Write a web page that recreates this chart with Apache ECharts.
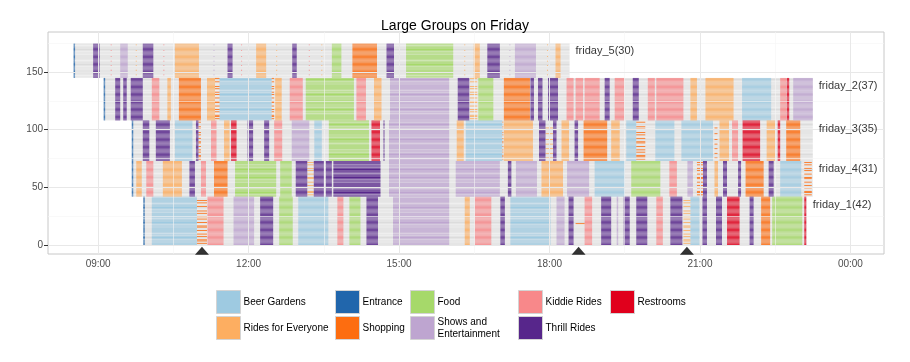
<!DOCTYPE html>
<html><head><meta charset="utf-8">
<script src="https://cdn.jsdelivr.net/npm/echarts@6/dist/echarts.min.js"></script>
<style>html,body{margin:0;padding:0;background:#fff}#c{width:910px;height:362px}</style>
</head><body><div id="c"></div>
<script>
// ---------- DATA ----------
const categories = ['Beer Gardens','Entrance','Food','Kiddie Rides','Restrooms','Rides for Everyone','Shopping','Shows and Entertainment','Thrill Rides'];
const categoryColors = ['#9ecae1','#2166ac','#a6d96a','#f8888a','#e0001c','#fdae61','#fd6d10','#bea5d0','#57268b'];
const codeToCategory = {B:'Beer Gardens',E:'Entrance',F:'Food',K:'Kiddie Rides',R:'Restrooms',O:'Rides for Everyone',S:'Shopping',V:'Shows and Entertainment',T:'Thrill Rides'};

// groups, bottom to top
const groupNames = ['friday_1','friday_4','friday_3','friday_2','friday_5'];
const groupSizes = [42,31,35,37,30];
const groupStart = [9.90,9.67,9.67,9.11,8.51];   // hours
const groupEnd   = [23.13,23.25,23.25,23.25,18.40];

// members taking part in partial activities (row index within the group)
const partialRowsA = [1,3,4,7,9,12,15,16,19,22,24,27,29,33,36,38];
const partialRowsB = [2,6,10,14,18,23,28];
const singleRow = [18];

// segments: [start hour, end hour, activity code, partial rows set]
const friday1Segments = [
  [9.90,9.93,'E'],[10.07,10.97,'B'],[10.97,11.17,'S','A'],[11.18,11.50,'K'],[11.70,12.11,'V'],
  [12.23,12.49,'T'],[12.61,12.88,'F'],[12.99,13.59,'B'],[13.77,13.89,'K'],[14.01,14.23,'F'],
  [14.35,14.58,'T'],[14.88,16.00,'V'],[16.31,16.41,'O'],[16.51,16.84,'K'],[17.02,17.11,'T'],
  [17.22,18.02,'B'],[18.14,18.30,'V'],[18.38,18.48,'T'],[18.52,18.70,'S','one'],[18.70,18.85,'K'],
  [19.03,19.23,'T'],[19.34,19.37,'V'],[19.48,19.60,'T'],[19.73,19.95,'T'],[20.13,20.26,'K'],
  [20.41,20.65,'T'],[20.67,20.81,'O','A'],[20.81,20.99,'B'],[21.05,21.14,'T'],[21.32,21.44,'T'],
  [21.54,21.79,'R'],[21.99,22.07,'T'],[22.22,22.40,'S'],[22.44,23.04,'F'],[23.08,23.12,'R']
];
const friday4Segments = [
  [9.67,9.70,'E'],[9.76,9.87,'O'],[9.96,10.10,'K'],[10.29,10.67,'O'],[10.82,10.93,'T'],
  [11.05,11.15,'K'],[11.31,11.58,'S'],[11.73,12.55,'F'],[12.63,12.86,'F'],[12.94,13.17,'T'],
  [13.17,13.30,'O','A'],[13.30,13.50,'T'],[13.54,13.66,'T'],[13.69,14.63,'T'],[14.80,16.00,'V'],
  [16.13,17.01,'V'],[17.17,17.24,'T'],[17.33,17.75,'V'],[17.84,18.27,'O'],[18.35,18.79,'V'],
  [18.90,19.50,'B'],[19.63,20.21,'F'],[20.39,20.54,'K'],[20.75,20.86,'V'],[20.94,21.06,'S','A'],
  [21.06,21.14,'T'],[21.29,21.36,'O'],[21.46,21.54,'T'],[21.76,21.82,'T'],[21.91,22.27,'S'],
  [22.37,22.47,'T'],[22.60,23.02,'B'],[23.08,23.23,'S','A']
];
const friday3Segments = [
  [9.67,9.70,'E'],[9.89,10.02,'T'],[10.15,10.43,'T'],[10.53,10.88,'B'],[10.95,11.00,'T'],
  [11.00,11.05,'S','A'],[11.25,11.36,'K'],[11.51,11.62,'O'],[11.65,11.76,'R'],[11.98,12.09,'T'],
  [12.31,12.41,'T'],[12.51,12.67,'K'],[12.86,13.21,'V'],[13.31,13.46,'B'],[13.60,14.40,'F'],
  [14.45,14.62,'R'],[14.69,14.71,'T'],[14.80,16.00,'V'],[16.15,16.29,'O'],[16.33,17.06,'B'],
  [17.06,17.08,'S','A'],[17.09,17.67,'O'],[17.79,17.92,'T'],[17.92,18.07,'O','B'],[18.07,18.14,'T'],
  [18.24,18.39,'O'],[18.50,18.57,'T'],[18.68,19.15,'S'],[19.23,19.40,'O'],[19.53,19.73,'B'],
  [19.73,19.91,'S','A'],[20.11,20.49,'B'],[20.63,21.26,'B'],[21.29,21.35,'S','B'],[21.39,21.58,'O'],
  [21.64,21.76,'K'],[21.85,22.20,'R'],[22.33,22.50,'O'],[22.55,22.60,'R'],[22.72,23.00,'S']
];
const friday2Segments = [
  [9.11,9.14,'E'],[9.34,9.44,'T'],[9.50,9.57,'T'],[9.65,9.89,'T'],[10.07,10.22,'K'],
  [10.38,10.45,'O'],[10.61,11.05,'S'],[11.17,11.33,'O'],[11.33,11.42,'S','A'],[11.42,12.46,'B'],
  [12.46,12.51,'S','A'],[12.53,12.66,'O'],[12.82,13.08,'K'],[13.14,14.10,'F'],[14.15,14.34,'K'],
  [14.50,14.65,'O'],[14.82,16.00,'V'],[16.17,16.40,'T'],[16.41,16.56,'O','A'],[16.58,16.88,'F'],
  [17.09,17.61,'S'],[17.62,17.69,'T'],[17.77,17.86,'T'],[17.97,18.17,'T'],[18.34,18.48,'K'],
  [18.52,18.67,'K'],[18.70,19.00,'K'],[19.10,19.20,'T'],[19.30,19.49,'K'],[19.66,19.78,'T'],
  [19.96,20.10,'K'],[20.13,20.67,'K'],[20.81,20.94,'O'],[21.11,21.67,'O'],[21.84,22.42,'B'],
  [22.60,22.72,'K'],[22.73,22.78,'R'],[22.86,23.25,'V']
];
const friday5Segments = [
  [8.51,8.54,'E'],[8.90,9.03,'T'],[9.25,9.27,'K','B'],[9.44,9.59,'V'],[9.75,9.77,'O','B'],
  [9.89,10.10,'T'],[10.30,10.32,'K','B'],[10.53,11.01,'O'],[11.30,11.32,'V','B'],[11.58,11.68,'T'],
  [11.85,11.87,'K','B'],[12.15,12.35,'O'],[12.55,12.57,'O','B'],[12.87,12.96,'T'],[13.20,13.22,'K','B'],
  [13.45,13.47,'O','B'],[13.66,13.85,'F'],[14.07,14.56,'S'],[14.75,14.90,'T'],[15.14,16.08,'F'],
  [16.30,16.32,'O','B'],[16.49,16.61,'O'],[16.76,17.01,'T'],[17.20,17.22,'V','B'],[17.31,17.73,'V'],
  [17.95,17.97,'O','B'],[18.12,18.22,'O']
];
const markerTimes = [11.07,18.58,20.74];
const xTickHours = [9,12,15,18,21,24];
const yTickValues = [0,50,100,150];
const xMinorHours = [10.5,13.5,16.5,19.5,22.5];
const yMinorValues = [25,75,125,175];

// ---------- BUILD ----------
const rowSets = {A:partialRowsA, B:partialRowsB, one:singleRow};
const groupSegments = [friday1Segments,friday4Segments,friday3Segments,friday2Segments,friday5Segments];
const rowPad = 0.14;
const catData = {}; categories.forEach(c=>catData[c]=[]);
const grayData = [];
const labelData = [];
let base = 0;
groupNames.forEach((g,gi)=>{
  const n = groupSizes[gi];
  for(let i=0;i<n;i++){
    const y0 = base+i+rowPad, y1 = base+i+1-rowPad;
    grayData.push([groupStart[gi],groupEnd[gi],y0,y1]);
    groupSegments[gi].forEach(s=>{
      if(s[3] && !rowSets[s[3]].includes(i)) return;
      catData[codeToCategory[s[2]]].push([s[0],s[1],y0,y1]);
    });
  }
  labelData.push({value:[groupEnd[gi], base+n-7], name:g+'('+n+')'});
  base += n;
});

function renderItem(params, api){
  const a = api.coord([api.value(0), api.value(3)]);
  const b = api.coord([api.value(1), api.value(2)]);
  return {type:'rect', shape:{x:a[0], y:a[1], width:Math.max(b[0]-a[0],0.6), height:b[1]-a[1]},
    style:{fill:api.visual('color')}};
}
const FONT = 'Liberation Sans';
const series = [];
series.push({type:'custom', name:'_gray', renderItem, data:grayData, encode:{x:[0,1],y:[2,3]},
  itemStyle:{color:'#dcdcdc'}, z:2, silent:true, animation:false});
categories.forEach((c,i)=>{
  series.push({type:'custom', name:c, renderItem, data:catData[c], encode:{x:[0,1],y:[2,3]},
    itemStyle:{color:categoryColors[i]}, z:3, silent:true, animation:false});
});
series.push({type:'scatter', name:'_markers', data:markerTimes.map(t=>[t,-5.0]), symbol:'triangle',
  symbolSize:[14,8], itemStyle:{color:'#000'}, z:1, silent:true, animation:false,
  markLine:{silent:true, symbol:'none', animation:false, label:{show:false},
    data:[
      ...yMinorValues.map(v=>({yAxis:v, lineStyle:{color:'#f5f5f5',width:0.6,type:'solid'}})),
      ...xMinorHours.map(v=>({xAxis:v, lineStyle:{color:'#f5f5f5',width:0.6,type:'solid'}})),
      ...yTickValues.map(v=>({yAxis:v, lineStyle:{color:'#e8e8e8',width:1,type:'solid'}})),
      ...xTickHours.map(v=>({xAxis:v, lineStyle:{color:'#e8e8e8',width:1,type:'solid'}}))
    ]}});
series.push({type:'scatter', name:'_labels', data:labelData, symbolSize:0, z:5, silent:true, animation:false,
  label:{show:true, position:'right', distance:6, formatter:p=>p.data.name, color:'#000', fontSize:11, fontFamily:FONT}});

const legendPos = {
  'Beer Gardens':[216,290], 'Entrance':[335,290], 'Food':[410,290], 'Kiddie Rides':[518,290], 'Restrooms':[610,290],
  'Rides for Everyone':[216,316], 'Shopping':[335,316], 'Shows and Entertainment':[410,316], 'Thrill Rides':[518,316]
};
const legends = categories.map(c=>({
  left:legendPos[c][0], top:legendPos[c][1], padding:0, itemWidth:24, itemHeight:23, itemGap:0,
  icon:'rect', selectedMode:false, data:[c],
  itemStyle:{borderColor:'#d4d4d4', borderWidth:1},
  formatter:n=>n==='Shows and Entertainment'?'Shows and\nEntertainment':n,
  textStyle:{fontSize:10, color:'#000', fontFamily:FONT, lineHeight:12, padding:[0,0,0,-2]}
}));

const fmtHour = v=>{ const h = Math.round(v)%24; return (h<10?'0':'')+h+':00'; };
const chart = echarts.init(document.getElementById('c'), null, {renderer:'canvas'});
chart.setOption({
  animation:false,
  backgroundColor:'#fff',
  title:{text:'Large Groups on Friday', left:'center', top:14,
    textStyle:{fontSize:14, fontWeight:'normal', color:'#000', fontFamily:FONT}},
  legend:legends,
  grid:{left:48, right:26, top:32, bottom:108, show:true, borderColor:'#c8c8c8', borderWidth:1, backgroundColor:'#fff'},
  xAxis:{type:'value', min:8.0, max:24.67, splitLine:{show:false}, axisLine:{show:false},
    axisTick:{show:true, length:4, customValues:xTickHours, lineStyle:{color:'#333'}},
    axisLabel:{customValues:xTickHours, formatter:fmtHour, fontSize:10, color:'#4d4d4d', fontFamily:FONT, margin:5}},
  yAxis:{type:'value', min:-7.8, max:184.7, splitLine:{show:false}, axisLine:{show:false},
    axisTick:{show:true, length:4, customValues:yTickValues, lineStyle:{color:'#333'}},
    axisLabel:{customValues:yTickValues, fontSize:10, color:'#4d4d4d', fontFamily:FONT, margin:5}},
  series
});
</script></body></html>
